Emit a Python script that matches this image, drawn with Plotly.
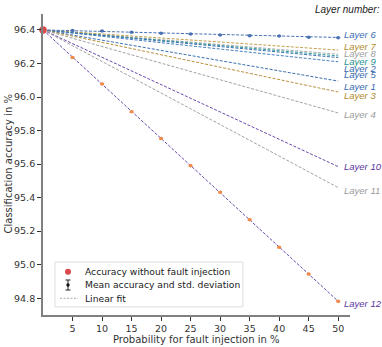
import plotly.graph_objects as go

# ---- data ----
probabilities = [0, 5, 10, 15, 20, 25, 30, 35, 40, 45, 50]
baseline_accuracy = 96.40

layers = ["Layer 1", "Layer 2", "Layer 3", "Layer 4", "Layer 5", "Layer 6",
          "Layer 7", "Layer 8", "Layer 9", "Layer 10", "Layer 11", "Layer 12"]
fit_start = [96.400, 96.400, 96.400, 96.400, 96.400, 96.400,
             96.400, 96.400, 96.400, 96.400, 96.400, 96.400]
fit_end = [96.095, 96.235, 96.030, 95.905, 96.210, 96.355,
           96.280, 96.255, 96.245, 95.585, 95.460, 94.782]
label_y = [96.062, 96.172, 96.010, 95.895, 96.133, 96.370,
           96.302, 96.257, 96.213, 95.585, 95.440, 94.770]

layer6_mean = [96.400, 96.396, 96.394, 96.386, 96.380, 96.376, 96.370, 96.366, 96.364, 96.356, 96.354]
layer6_std = [0, 0.002, 0.002, 0.002, 0.002, 0.002, 0.002, 0.002, 0.002, 0.002, 0.002]
layer12_mean = [96.400, 96.235, 96.078, 95.912, 95.752, 95.590, 95.432, 95.268, 95.104, 94.944, 94.782]
layer12_std = [0, 0.004, 0.004, 0.004, 0.004, 0.004, 0.004, 0.004, 0.004, 0.004, 0.004]

line_colors = ["#3b6fb0", "#3b6fb0", "#b8903a", "#a3a3a3", "#4680c0", "#4a72b3",
               "#c2a04e", "#ababab", "#2c9a9a", "#6a48b0", "#a3a3a3", "#6a48b0"]
label_colors = ["#3569ad", "#3569ad", "#b08a2e", "#9a9a9a", "#3569ad", "#3b6eb4",
                "#b08a2e", "#a0a0a0", "#1f8f8f", "#5a35a0", "#9a9a9a", "#5a35a0"]

legend_labels = ["Accuracy without fault injection",
                 "Mean accuracy and std. deviation",
                 "Linear fit"]

x_title = "Probability for fault injection in %"
y_title = "Classification accuracy in %"
x_ticks = [5, 10, 15, 20, 25, 30, 35, 40, 45, 50]
y_ticks = [94.8, 95.0, 95.2, 95.4, 95.6, 95.8, 96.0, 96.2, 96.4]

fig = go.Figure()

x_fit = [probabilities[0], probabilities[-1]]
order = [7, 8, 6, 1, 4, 0, 2, 3, 9, 10, 11, 5]
for i in order:
    fig.add_trace(go.Scatter(
        x=x_fit, y=[fit_start[i], fit_end[i]], mode="lines",
        line=dict(color=line_colors[i], width=1, dash="3px,1.6px"),
        showlegend=False, hoverinfo="skip"))

fig.add_trace(go.Scatter(
    x=probabilities[1:], y=layer6_mean[1:], mode="markers",
    marker=dict(color="#4a72b3", size=3.5),
    error_y=dict(type="data", array=layer6_std[1:], color="#4a72b3", thickness=1, width=2),
    showlegend=False))
fig.add_trace(go.Scatter(
    x=probabilities[1:], y=layer12_mean[1:], mode="markers",
    marker=dict(color="#f08a4b", size=3.5),
    error_y=dict(type="data", array=layer12_std[1:], color="#f08a4b", thickness=1, width=2),
    showlegend=False))

# baseline point
fig.add_trace(go.Scatter(
    x=[probabilities[0]], y=[baseline_accuracy], mode="markers",
    marker=dict(color="#d94a4a", size=7.5), cliponaxis=False,
    showlegend=False))

for i in range(len(layers)):
    fig.add_annotation(
        x=probabilities[-1], y=label_y[i], xref="x", yref="y",
        text="<i>" + layers[i] + "</i>", showarrow=False,
        xanchor="left", yanchor="middle", xshift=4,
        font=dict(family="Liberation Sans", size=9.5, color=label_colors[i]))

fig.add_annotation(
    x=1.105, y=1.04, xref="paper", yref="paper", text="<i>Layer number:</i>",
    showarrow=False, xanchor="right", yanchor="top",
    font=dict(family="Liberation Sans", size=10, color="#222"))

# axis titles
fig.add_annotation(x=0, y=0.5, xref="paper", yref="paper", text=y_title,
                   textangle=-90, showarrow=False, xanchor="center", yanchor="middle",
                   xshift=-35, font=dict(family="DejaVu Sans", size=10, color="#333"))
fig.add_annotation(x=0.5, y=0, xref="paper", yref="paper", text=x_title,
                   showarrow=False, xanchor="center", yanchor="middle",
                   yshift=-24, font=dict(family="DejaVu Sans", size=10, color="#333"))

# ---- manual legend (paper coordinates) ----
lg_x0, lg_x1, lg_y0, lg_y1 = 0.039, 0.651, 0.027, 0.176
row_y = [0.144, 0.0997, 0.0555]
sym_x = 0.0814
txt_x = 0.131
fig.add_shape(type="rect", xref="paper", yref="paper",
              x0=lg_x0, x1=lg_x1, y0=lg_y0, y1=lg_y1,
              line=dict(color="#dddddd", width=1), fillcolor="rgba(255,255,255,0.85)",
              layer="above")
fig.add_shape(type="circle", xref="paper", yref="paper",
              xsizemode="pixel", ysizemode="pixel", xanchor=sym_x, yanchor=row_y[0],
              x0=-3, x1=3, y0=-3, y1=3, fillcolor="#d94a4a", line=dict(width=0),
              layer="above")
fig.add_shape(type="line", xref="paper", yref="paper",
              xsizemode="pixel", ysizemode="pixel", xanchor=sym_x, yanchor=row_y[1],
              x0=0, x1=0, y0=-5, y1=5, line=dict(color="#222", width=1), layer="above")
for cap in (-5, 5):
    fig.add_shape(type="line", xref="paper", yref="paper",
                  xsizemode="pixel", ysizemode="pixel", xanchor=sym_x, yanchor=row_y[1],
                  x0=-2.5, x1=2.5, y0=cap, y1=cap, line=dict(color="#222", width=1),
                  layer="above")
fig.add_shape(type="circle", xref="paper", yref="paper",
              xsizemode="pixel", ysizemode="pixel", xanchor=sym_x, yanchor=row_y[1],
              x0=-1.7, x1=1.7, y0=-1.7, y1=1.7, fillcolor="#111", line=dict(width=0),
              layer="above")
fig.add_shape(type="line", xref="paper", yref="paper",
              xsizemode="pixel", ysizemode="pixel", xanchor=sym_x, yanchor=row_y[2],
              x0=-8, x1=10, y0=0, y1=0, line=dict(color="#aaaaaa", width=1, dash="2px,1.5px"),
              layer="above")
for k, lab in enumerate(legend_labels):
    fig.add_annotation(x=txt_x, y=row_y[k], xref="paper", yref="paper", text=lab,
                       showarrow=False, xanchor="left", yanchor="middle",
                       font=dict(family="DejaVu Sans", size=9.2, color="#222"))

axis_common = dict(
    showgrid=False, zeroline=False, showline=True, linecolor="#808080",
    linewidth=1.8, ticks="outside", ticklen=4, tickwidth=1, tickcolor="#333",
    tickfont=dict(family="DejaVu Sans", size=9.5, color="#333"),
    mirror=False, automargin=False,
)

fig.update_layout(
    width=382, height=347,
    margin=dict(l=43, r=32, t=14, b=32),
    paper_bgcolor="white", plot_bgcolor="white",
    font=dict(family="DejaVu Sans", color="#333"),
    xaxis=dict(range=[0, 52], tickvals=x_ticks, **axis_common),
    yaxis=dict(range=[94.70, 96.495], tickvals=y_ticks, tickformat=".1f", **axis_common),
    showlegend=False,
)

fig.write_html("out.html", config={"displayModeBar": False},
               post_script="document.body.style.margin='0';")
